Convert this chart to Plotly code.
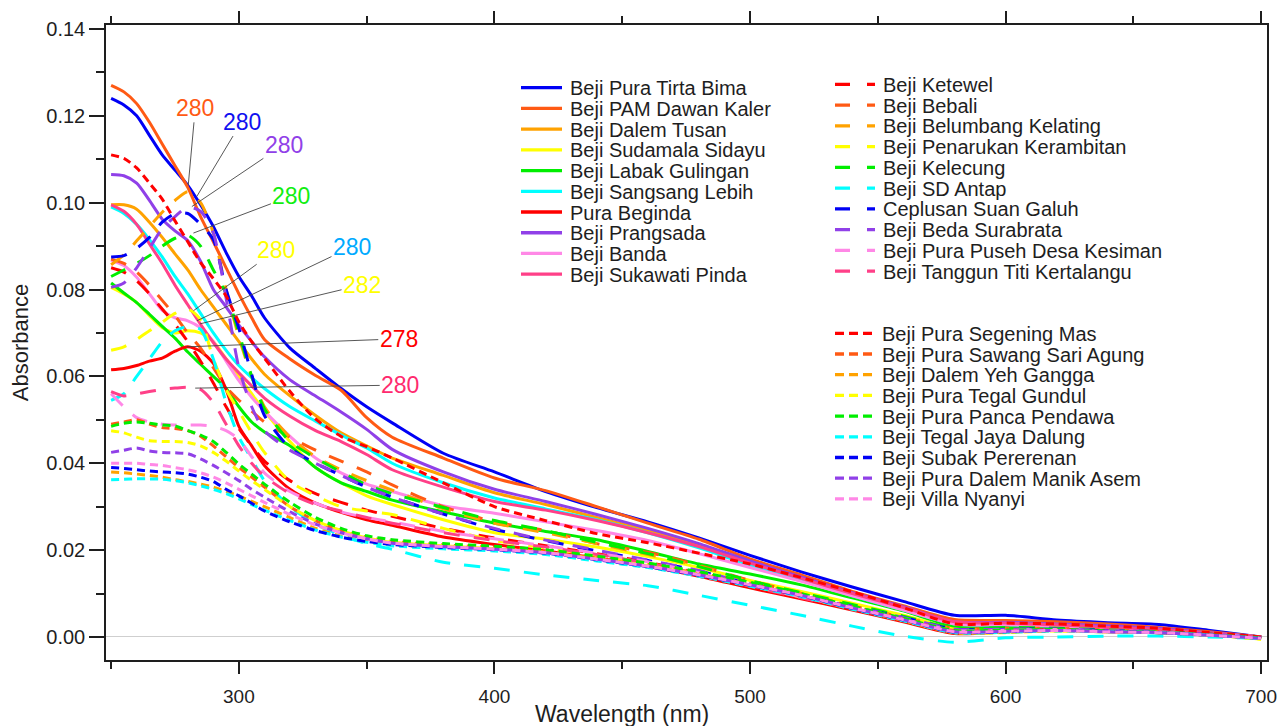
import plotly.graph_objects as go

# ---------------- data ----------------
WL = [250, 255, 260, 265, 270, 275, 280, 285, 290, 295, 300, 305, 310, 320, 330, 340, 350, 360,
      380, 400, 420, 440, 460, 480, 500, 520, 540, 560, 580, 600, 620, 640, 660, 680, 700]

# solid group
tirta_bima = [.1240, .1225, .1200, .1155, .1110, .1075, .1040, .0995, .0945, .0885, .0830, .0785, .0735, .0665, .0618, .0572, .0530, .0493,
              .0423, .0380, .0335, .0298, .0265, .0228, .0188, .0150, .0115, .0082, .0050, .0050, .0039, .0033, .0029, .0015, .0000]
dawan_kaler = [.1270, .1255, .1228, .1185, .1135, .1085, .1035, .0968, .0910, .0850, .0790, .0735, .0685, .0640, .0602, .0568, .0505, .0460,
               .0412, .0366, .0337, .0300, .0262, .0225, .0180, .0143, .0105, .0072, .0040, .0038, .0035, .0030, .0022, .0012, .0000]
dalem_tusan = [.0995, .0995, .0985, .0955, .0920, .0882, .0845, .0800, .0760, .0720, .0680, .0640, .0605, .0555, .0510, .0470, .0440, .0412,
               .0372, .0332, .0305, .0275, .0245, .0210, .0172, .0135, .0100, .0068, .0035, .0034, .0030, .0025, .0020, .0010, .0000]
sudamala = [.0805, .0790, .0770, .0740, .0712, .0700, .0705, .0700, .0680, .0640, .0600, .0560, .0520, .0450, .0390, .0355, .0325, .0305,
            .0270, .0240, .0225, .0207, .0185, .0160, .0130, .0105, .0078, .0050, .0020, .0020, .0018, .0015, .0012, .0005, -.0005]
labak = [.0815, .0792, .0770, .0743, .0715, .0688, .0656, .0628, .0600, .0572, .0530, .0495, .0472, .0440, .0390, .0355, .0335, .0315,
         .0288, .0262, .0243, .0224, .0197, .0168, .0145, .0120, .0090, .0060, .0025, .0022, .0020, .0016, .0012, .0006, -.0002]
sangsang = [.0990, .0975, .0950, .0915, .0875, .0830, .0790, .0745, .0700, .0660, .0625, .0597, .0572, .0530, .0497, .0465, .0435, .0400,
            .0355, .0320, .0295, .0270, .0240, .0205, .0165, .0130, .0095, .0062, .0030, .0028, .0025, .0020, .0015, .0008, -.0003]
beginda = [.0615, .0618, .0625, .0635, .0642, .0658, .0668, .0658, .0630, .0570, .0485, .0440, .0395, .0340, .0308, .0287, .0270, .0257,
           .0230, .0213, .0198, .0182, .0163, .0140, .0113, .0088, .0062, .0035, .0008, .0012, .0018, .0012, .0010, .0005, -.0003]
prangsada = [.1065, .1062, .1045, .1005, .0962, .0935, .0912, .0865, .0800, .0760, .0718, .0680, .0645, .0592, .0555, .0518, .0478, .0432,
             .0380, .0340, .0312, .0282, .0250, .0215, .0175, .0138, .0102, .0070, .0035, .0034, .0030, .0026, .0020, .0010, .0000]
banda = [.0868, .0855, .0828, .0790, .0752, .0735, .0728, .0712, .0680, .0635, .0590, .0552, .0520, .0462, .0412, .0378, .0352, .0335,
         .0302, .0285, .0265, .0245, .0222, .0192, .0160, .0128, .0095, .0062, .0030, .0028, .0025, .0020, .0016, .0008, .0000]
sukawati = [.0995, .0980, .0950, .0905, .0860, .0810, .0765, .0720, .0678, .0640, .0608, .0578, .0550, .0508, .0475, .0450, .0420, .0385,
            .0345, .0312, .0292, .0268, .0240, .0208, .0170, .0135, .0100, .0068, .0035, .0032, .0028, .0022, .0018, .0009, .0000]

# dashed group
ketewel = [.0850, .0840, .0820, .0790, .0755, .0720, .0680, .0635, .0585, .0530, .0480, .0440, .0405, .0360, .0330, .0310, .0292, .0278,
           .0250, .0228, .0210, .0192, .0172, .0147, .0118, .0090, .0064, .0038, .0010, .0012, .0016, .0013, .0010, .0005, -.0002]
bebali = [.0870, .0860, .0840, .0810, .0775, .0740, .0700, .0665, .0620, .0575, .0545, .0520, .0495, .0460, .0430, .0405, .0380, .0350,
          .0300, .0265, .0245, .0215, .0195, .0165, .0130, .0100, .0072, .0045, .0020, .0020, .0020, .0016, .0012, .0006, .0000]
belumbang = [.0857, .0880, .0912, .0945, .0978, .1005, .1025, .1000, .0930, .0800, .0690, .0600, .0530, .0460, .0415, .0385, .0360, .0338,
             .0295, .0262, .0240, .0215, .0190, .0163, .0128, .0100, .0072, .0045, .0018, .0018, .0018, .0015, .0012, .0006, .0000]
penarukan = [.0660, .0668, .0685, .0705, .0725, .0745, .0755, .0730, .0640, .0570, .0520, .0470, .0425, .0358, .0325, .0300, .0290, .0282,
             .0250, .0222, .0205, .0188, .0170, .0145, .0118, .0092, .0066, .0040, .0012, .0012, .0014, .0012, .0010, .0004, -.0005]
kelecung = [.0830, .0845, .0860, .0878, .0900, .0918, .0925, .0900, .0845, .0790, .0700, .0600, .0525, .0450, .0412, .0380, .0350, .0330,
            .0298, .0268, .0245, .0218, .0192, .0162, .0130, .0102, .0075, .0048, .0020, .0022, .0020, .0016, .0012, .0006, .0000]
sd_antap = [.0545, .0560, .0600, .0640, .0680, .0705, .0715, .0708, .0640, .0540, .0460, .0410, .0360, .0300, .0260, .0235, .0215, .0202,
            .0172, .0158, .0143, .0130, .0118, .0096, .0073, .0050, .0025, .0002, -.0012, -.0002, .0000, .0002, .0002, .0000, -.0003]
ceplusan = [.0875, .0878, .0895, .0920, .0955, .0975, .0975, .0950, .0915, .0800, .0710, .0605, .0510, .0435, .0400, .0372, .0345, .0322,
            .0283, .0248, .0222, .0198, .0176, .0152, .0122, .0095, .0070, .0045, .0018, .0018, .0018, .0015, .0012, .0006, .0000]
beda = [.0805, .0815, .0850, .0895, .0940, .0968, .0990, .0980, .0930, .0780, .0620, .0530, .0475, .0430, .0400, .0372, .0345, .0322,
        .0283, .0250, .0223, .0200, .0177, .0153, .0122, .0095, .0070, .0045, .0018, .0018, .0018, .0015, .0012, .0006, .0000]
kesiman = [.0560, .0530, .0505, .0495, .0490, .0488, .0488, .0488, .0485, .0475, .0455, .0415, .0378, .0335, .0308, .0288, .0275, .0265,
           .0243, .0226, .0210, .0193, .0173, .0148, .0119, .0092, .0067, .0041, .0015, .0016, .0017, .0014, .0011, .0005, .0000]
kertalangu = [.0565, .0555, .0560, .0565, .0570, .0573, .0575, .0570, .0540, .0490, .0440, .0400, .0370, .0330, .0305, .0290, .0275, .0262,
              .0240, .0222, .0207, .0190, .0170, .0145, .0117, .0090, .0066, .0040, .0015, .0015, .0016, .0013, .0010, .0005, .0000]

# dotted group
segening = [.1110, .1102, .1080, .1045, .1008, .0958, .0910, .0862, .0825, .0785, .0725, .0680, .0642, .0565, .0502, .0462, .0438, .0412,
            .0355, .0300, .0268, .0238, .0217, .0193, .0168, .0137, .0104, .0068, .0030, .0032, .0030, .0025, .0020, .0010, .0000]
sawang = [.0490, .0495, .0500, .0490, .0482, .0480, .0475, .0462, .0440, .0415, .0390, .0368, .0345, .0300, .0268, .0245, .0230, .0220,
          .0212, .0206, .0198, .0183, .0167, .0147, .0124, .0099, .0070, .0042, .0014, .0014, .0016, .0013, .0010, .0004, -.0003]
yeh_gangga = [.0380, .0378, .0375, .0372, .0368, .0362, .0358, .0352, .0345, .0335, .0325, .0312, .0300, .0275, .0250, .0232, .0220, .0212,
              .0205, .0200, .0192, .0177, .0161, .0141, .0118, .0094, .0065, .0038, .0010, .0011, .0014, .0012, .0010, .0004, -.0004]
tegal_gundul = [.0475, .0470, .0460, .0452, .0450, .0450, .0448, .0440, .0425, .0405, .0382, .0360, .0340, .0300, .0268, .0245, .0228, .0218,
                .0210, .0203, .0195, .0180, .0164, .0144, .0120, .0095, .0066, .0038, .0010, .0010, .0014, .0012, .0010, .0004, -.0005]
panca = [.0485, .0492, .0495, .0492, .0488, .0486, .0475, .0465, .0450, .0425, .0398, .0375, .0352, .0310, .0275, .0250, .0233, .0224,
         .0215, .0209, .0201, .0186, .0170, .0150, .0126, .0100, .0071, .0043, .0015, .0016, .0017, .0014, .0011, .0005, -.0002]
tegal_jaya = [.0362, .0363, .0364, .0364, .0363, .0360, .0355, .0348, .0340, .0330, .0318, .0305, .0292, .0268, .0246, .0230, .0218, .0210,
              .0203, .0198, .0190, .0175, .0160, .0140, .0117, .0093, .0064, .0037, .0010, .0011, .0014, .0012, .0010, .0004, -.0004]
subak = [.0390, .0388, .0385, .0382, .0380, .0378, .0375, .0368, .0358, .0340, .0325, .0308, .0290, .0265, .0245, .0230, .0220, .0213,
         .0206, .0201, .0193, .0178, .0162, .0142, .0119, .0095, .0066, .0039, .0011, .0012, .0015, .0013, .0010, .0004, -.0003]
manik_asem = [.0425, .0430, .0435, .0428, .0425, .0424, .0422, .0410, .0395, .0378, .0360, .0340, .0322, .0288, .0260, .0240, .0226, .0216,
              .0208, .0202, .0194, .0179, .0163, .0143, .0120, .0096, .0067, .0040, .0012, .0013, .0015, .0012, .0010, .0004, -.0003]
villa = [.0400, .0400, .0400, .0397, .0395, .0390, .0385, .0378, .0368, .0355, .0340, .0325, .0310, .0282, .0258, .0240, .0226, .0216,
         .0208, .0202, .0194, .0179, .0163, .0143, .0120, .0096, .0067, .0040, .0012, .0013, .0015, .0012, .0010, .0004, -.0003]

# peak labels
peak_text = ["280", "280", "280", "280", "280", "280", "282", "278", "280"]
peak_wl = [280.2, 283.5, 281.6, 282.2, 282.2, 283.6, 284.8, 279.6, 282.9]
peak_abs = [0.1041, 0.1014, 0.0991, 0.0930, 0.0751, 0.0728, 0.0721, 0.0668, 0.0573]

# ---------------- styles ----------------
BLUE, ORED, ORANGE, YELLOW, GREEN = "#0000F5", "#FF5A14", "#FFA200", "#FFFF00", "#00EE00"
CYAN, RED, PURPLE, PINK, PINKRED = "#00FFFF", "#FF0000", "#9040E8", "#FF88E6", "#FF4088"

SOLID = [("Beji Pura Tirta Bima", tirta_bima, BLUE), ("Beji PAM Dawan Kaler", dawan_kaler, ORED),
         ("Beji Dalem Tusan", dalem_tusan, ORANGE), ("Beji Sudamala Sidayu", sudamala, YELLOW),
         ("Beji Labak Gulingan", labak, GREEN), ("Beji Sangsang Lebih", sangsang, CYAN),
         ("Pura Beginda", beginda, RED), ("Beji Prangsada", prangsada, PURPLE),
         ("Beji Banda", banda, PINK), ("Beji Sukawati Pinda", sukawati, PINKRED)]
DASHED = [("Beji Ketewel", ketewel, RED), ("Beji Bebali", bebali, ORED),
          ("Beji Belumbang Kelating", belumbang, ORANGE), ("Beji Penarukan Kerambitan", penarukan, YELLOW),
          ("Beji Kelecung", kelecung, GREEN), ("Beji SD Antap", sd_antap, CYAN),
          ("Ceplusan Suan Galuh", ceplusan, BLUE), ("Beji Beda Surabrata", beda, PURPLE),
          ("Beji Pura Puseh Desa Kesiman", kesiman, PINK), ("Beji Tanggun Titi Kertalangu", kertalangu, PINKRED)]
DOTTED = [("Beji Pura Segening Mas", segening, RED), ("Beji Pura Sawang Sari Agung", sawang, ORED),
          ("Beji Dalem Yeh Gangga", yeh_gangga, ORANGE), ("Beji Pura Tegal Gundul", tegal_gundul, YELLOW),
          ("Beji Pura Panca Pendawa", panca, GREEN), ("Beji Tegal Jaya Dalung", tegal_jaya, CYAN),
          ("Beji Subak Pererenan", subak, BLUE), ("Beji Pura Dalem Manik Asem", manik_asem, PURPLE),
          ("Beji Villa Nyanyi", villa, PINK)]
peak_colors = [ORED, "#1010F0", PURPLE, "#11EE11", YELLOW, "#00AAFF", YELLOW, RED, "#FF2A6E"]
peak_offsets = [(7, -77), (45, -75), (92, -62), (98, -37), (83, -61), (155, -74), (162, -39), (212, -8), (205, -3)]

DASH_LONG = "16px,14px"
DASH_DOT = "8px,5px"
FONT = "Liberation Sans, Arial, sans-serif"
INK = "#1e1e1e"

# the page body adds an 8 px offset; figure is sized so the plot area lands on the reference frame
OFF = 8
W, H = 1286 - OFF, 726 - OFF
L, R, T, B = 106 - OFF, 19, 25 - OFF, 66
PW, PH = W - L - R, H - T - B


def px(xp):
    """page pixel x -> paper fraction"""
    return (xp - OFF - L) / PW


def py(yp):
    """page pixel y -> paper fraction"""
    return (OFF + H - B - yp) / PH


fig = go.Figure()
for group, dash in ((SOLID, "solid"), (DASHED, DASH_LONG), (DOTTED, DASH_DOT)):
    for name, vals, color in group:
        fig.add_trace(go.Scatter(x=WL, y=vals, mode="lines", name=name, showlegend=False,
                                 line=dict(color=color, width=3, dash=dash, shape="spline", smoothing=0.7)))

annotations = []
shapes = []
# peak labels with leader lines
for txt, xw, ya, c, (ax, ay) in zip(peak_text, peak_wl, peak_abs, peak_colors, peak_offsets):
    annotations.append(dict(x=xw, y=ya, xref="x", yref="y", text=txt, showarrow=True, arrowhead=0,
                            arrowwidth=0.9, arrowcolor="#444444", ax=ax, ay=ay, standoff=0,
                            font=dict(family=FONT, size=23, color=c)))

# legend (three blocks)
blocks = [(SOLID, "solid", 521, 562, 568, 87.7, 20.72),
          (DASHED, "15px,17px", 835, 875, 881, 84.3, 20.75),
          (DOTTED, "9px,5px", 835, 875, 880, 333.3, 20.7)]
for group, dash, x0, x1, xt, y0, dy in blocks:
    for i, (name, _, color) in enumerate(group):
        yy = y0 + i * dy
        shapes.append(dict(type="line", xref="paper", yref="paper", x0=px(x0), x1=px(x1), y0=py(yy), y1=py(yy),
                           line=dict(color=color, width=3.3, dash=dash)))
        annotations.append(dict(x=px(xt), y=py(yy + 0.5), xref="paper", yref="paper", text=name, showarrow=False,
                                xanchor="left", yanchor="middle", font=dict(family=FONT, size=20, color=INK)))

# x-axis title
annotations.append(dict(x=px(622), y=py(714), xref="paper", yref="paper", text="Wavelength (nm)", showarrow=False,
                        xanchor="center", yanchor="middle", font=dict(family=FONT, size=23, color=INK)))

fig.update_layout(
    width=W, height=H, margin=dict(l=L, r=R, t=T, b=B, pad=0, autoexpand=False),
    paper_bgcolor="white", plot_bgcolor="white", showlegend=False,
    font=dict(family=FONT, color=INK),
    annotations=annotations, shapes=shapes,
    xaxis=dict(range=[248.0, 702.3], tick0=300, dtick=100, ticks="outside", ticklen=12, tickwidth=1.5,
               tickcolor=INK, showline=True, linecolor=INK, linewidth=1.5, mirror="ticks", automargin=False,
               showgrid=False, zeroline=False, tickfont=dict(family=FONT, size=19, color=INK),
               ticklabelstandoff=6,
               minor=dict(tick0=250, dtick=50, ticks="outside", ticklen=7, tickwidth=1.5, tickcolor=INK,
                          showgrid=False)),
    yaxis=dict(range=[-0.0053, 0.1409], tick0=0, dtick=0.02, tickformat=".2f", ticks="outside", ticklen=15,
               tickwidth=1.5, tickcolor=INK, showline=True, linecolor=INK, linewidth=1.5, mirror=True,
               automargin=False,
               showgrid=False, zeroline=True, zerolinecolor="#cfcfcf", zerolinewidth=1,
               tickfont=dict(family=FONT, size=20, color=INK),
               title=dict(text="Absorbance", font=dict(family=FONT, size=22, color=INK), standoff=14),
               minor=dict(tick0=0, dtick=0.01, ticks="outside", ticklen=8, tickwidth=1.5, tickcolor=INK,
                          showgrid=False)),
)

fig.write_html("out.html")
